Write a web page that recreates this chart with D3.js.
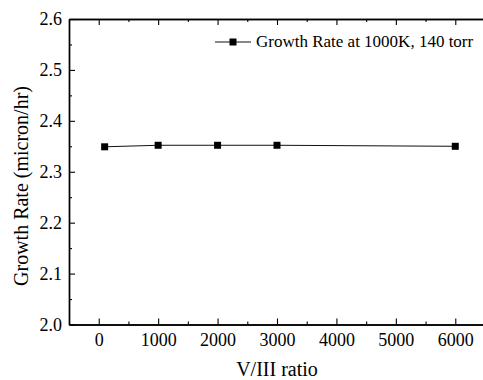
<!DOCTYPE html>
<html>
<head>
<meta charset="utf-8">
<script src="https://cdn.jsdelivr.net/npm/d3@7"></script>
<style>
  body { margin: 0; background: #fff; }
  svg { display: block; }
  svg text { font-family: "Liberation Serif", "Times New Roman", serif; fill: #000; }
  .axis path, .axis line { stroke: #000; }
</style>
</head>
<body>
<svg id="chart" width="483" height="380"></svg>
<script>
// data
const ratios = [100, 1000, 2000, 3000, 6000];
const growthRates = [2.349, 2.352, 2.352, 2.352, 2.350];
const xTicks = [0, 1000, 2000, 3000, 4000, 5000, 6000];
const yTicks = [2.0, 2.1, 2.2, 2.3, 2.4, 2.5, 2.6];
const seriesName = "Growth Rate at 1000K, 140 torr";

const svg = d3.select("#chart");
const plotLeft = 69, plotTop = 19, plotBottom = 324.5, plotRight = 485;

const x = d3.scaleLinear().domain([-500, 6500]).range([plotLeft, plotRight]);
const y = d3.scaleLinear().domain([2.0, 2.6]).range([plotBottom, plotTop]);

// minor ticks
const xMinor = d3.range(-500, 6501, 500).filter(v => v % 1000 !== 0);
const yMinor = d3.range(2.05, 2.6, 0.1);

function styleAxis(g) {
  g.selectAll("path").attr("stroke-width", 1.4);
  g.selectAll("line").attr("stroke-width", 1.1);
}
function styleText(g) {
  g.selectAll("text").style("font-size", "18px");
}

// bottom axis
svg.append("g").attr("class", "axis")
  .attr("transform", `translate(0,${plotBottom})`)
  .call(d3.axisBottom(x).tickValues(xMinor).tickSizeInner(-3).tickSizeOuter(0).tickFormat(""))
  .call(styleAxis);
svg.append("g").attr("class", "axis")
  .attr("transform", `translate(0,${plotBottom})`)
  .call(d3.axisBottom(x).tickValues(xTicks).tickSizeInner(-6).tickSizeOuter(0).tickPadding(9).tickFormat(d3.format("d")))
  .call(styleAxis)
  .call(styleText);

// top axis (mirrored ticks, no labels)
svg.append("g").attr("class", "axis")
  .attr("transform", `translate(0,${plotTop})`)
  .call(d3.axisTop(x).tickValues(xMinor).tickSizeInner(-3).tickSizeOuter(0).tickFormat(""))
  .call(styleAxis);
svg.append("g").attr("class", "axis")
  .attr("transform", `translate(0,${plotTop})`)
  .call(d3.axisTop(x).tickValues(xTicks).tickSizeInner(-6).tickSizeOuter(0).tickFormat(""))
  .call(styleAxis);

// left axis
svg.append("g").attr("class", "axis")
  .attr("transform", `translate(${plotLeft},0)`)
  .call(d3.axisLeft(y).tickValues(yMinor).tickSizeInner(-3).tickSizeOuter(0).tickFormat(""))
  .call(styleAxis);
svg.append("g").attr("class", "axis")
  .attr("transform", `translate(${plotLeft},0)`)
  .call(d3.axisLeft(y).tickValues(yTicks).tickSizeInner(-6).tickSizeOuter(0).tickPadding(7).tickFormat(d3.format(".1f")))
  .call(styleAxis)
  .call(styleText);

// axis titles
svg.append("text")
  .attr("x", 277)
  .attr("y", 376)
  .attr("text-anchor", "middle")
  .style("font-size", "20px")
  .text("V/III ratio");

svg.append("text")
  .attr("transform", "translate(28,186) rotate(-90)")
  .attr("text-anchor", "middle")
  .style("font-size", "20px")
  .text("Growth Rate (micron/hr)");

// series
const pts = ratios.map((r, i) => ({ r, v: growthRates[i] }));
svg.append("path")
  .datum(pts)
  .attr("fill", "none")
  .attr("stroke", "#111")
  .attr("stroke-width", 1)
  .attr("d", d3.line().x(d => x(d.r)).y(d => y(d.v)));

const ms = 7;
svg.selectAll("rect.pt")
  .data(pts)
  .enter()
  .append("rect")
  .attr("class", "pt")
  .attr("x", d => x(d.r) - ms / 2)
  .attr("y", d => y(d.v) - ms / 2)
  .attr("width", ms)
  .attr("height", ms)
  .attr("fill", "#000");

// legend
const lg = svg.append("g").attr("transform", "translate(215,42)");
lg.append("line").attr("x1", 0).attr("x2", 36).attr("y1", 0).attr("y2", 0)
  .attr("stroke", "#111").attr("stroke-width", 1);
lg.append("rect").attr("x", 18 - ms / 2).attr("y", -ms / 2).attr("width", ms).attr("height", ms).attr("fill", "#000");
lg.append("text").attr("x", 41).attr("y", 5).style("font-size", "17px").text(seriesName);
</script>
</body>
</html>
